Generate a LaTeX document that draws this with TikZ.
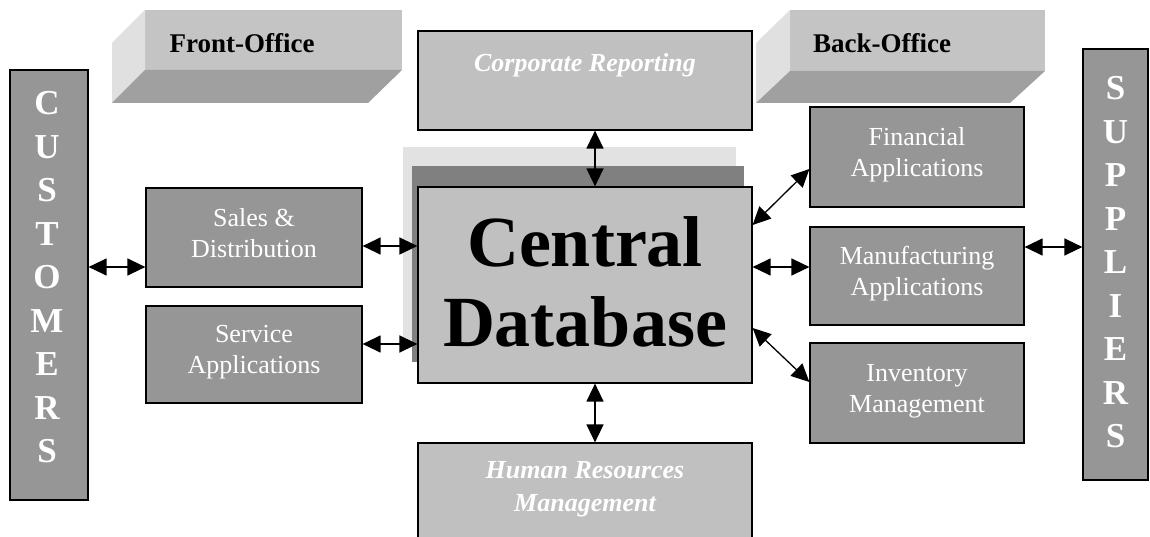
\documentclass[tikz,border=0pt]{standalone}
\usepackage{fontspec}
\setmainfont{Liberation Serif}
\usetikzlibrary{arrows.meta}

\definecolor{boxdark}{HTML}{969696}
\definecolor{boxlight}{HTML}{C0C0C0}
\definecolor{facelight}{HTML}{E0E0E0}
\definecolor{facemid}{HTML}{C4C4C4}
\definecolor{facedark}{HTML}{A0A0A0}
\definecolor{shadowdark}{HTML}{808080}
\definecolor{shadowlight}{HTML}{E2E2E2}

\begin{document}
\begin{tikzpicture}[x=1pt,y=-1pt,
  frame/.style={draw=black,line width=1.2pt,inner sep=0pt},
  darkbox/.style={frame,fill=boxdark,text=white,align=center,
    font=\fontsize{26}{31}\selectfont,text depth=10pt},
  lightbox/.style={frame,fill=boxlight},
  columnbox/.style={frame,fill=boxdark},
  columntext/.style={text=white,align=center,inner sep=0pt,text depth=0pt,
    font=\fontsize{35}{43.5}\selectfont\bfseries},
  italtext/.style={text=white,align=center,inner sep=0pt,text depth=0pt,
    font=\fontsize{26}{33}\selectfont\bfseries\itshape},
  officetext/.style={text=black,inner sep=0pt,text depth=0pt,
    font=\fontsize{27}{30}\selectfont\bfseries},
  tip/.tip={Triangle[length=18pt,width=17pt]},
  biarrow/.style={tip-tip,line width=1.3pt,black}
]
\useasboundingbox (0,0) rectangle (1150,537);
\fill[white] (0,0) rectangle (1150,537);
\clip (0,0) rectangle (1150,537);

% raised banners for the two office groups
\fill[facemid]   (145,10) rectangle (402,70);
\fill[facelight] (145,10) -- (112,43) -- (112,103) -- (145,70) -- cycle;
\fill[facedark]  (145,70) -- (402,70) -- (368,103) -- (112,103) -- cycle;
\node[officetext] (front) at (242,43) {Front-Office};

\fill[facemid]   (790,10) rectangle (1045,71);
\fill[facelight] (790,10) -- (756,43) -- (756,103) -- (790,71) -- cycle;
\fill[facedark]  (790,71) -- (1045,71) -- (1010,103) -- (756,103) -- cycle;
\node[officetext] (back) at (882,43) {Back-Office};

% side columns
\node[columnbox,minimum width=78,minimum height=430] (cust) at (49,285) {};
\node[columntext] (custtxt) at ([xshift=-2pt,yshift=8pt]cust.center)
  {C\\U\\S\\T\\O\\M\\E\\R\\S};
\node[columnbox,minimum width=65,minimum height=431] (supp) at (1115.5,264.5) {};
\node[columntext] (supptxt) at ([yshift=2.5pt]supp.center)
  {S\\U\\P\\P\\L\\I\\E\\R\\S};

% central database with stacked sheets behind it
\fill[shadowlight] (403,147) rectangle (736,343);
\fill[shadowdark]  (412,166) rectangle (744,362);
\node[lightbox,minimum width=334,minimum height=196,align=center,
  font=\fontsize{72}{80}\selectfont\bfseries,text depth=6pt]
  (cdb) at (585,285) {Central\\Database};

% reporting and HR
\node[lightbox,minimum width=334,minimum height=99] (corp) at (585,80.5) {};
\node[italtext] (corptxt) at (585,62) {Corporate Reporting};
\node[lightbox,minimum width=334,minimum height=117] (hr) at (585,501.5) {};
\node[italtext] (hrtxt) at (585,486.5) {Human Resources\\Management};

% application modules
\node[darkbox,minimum width=216,minimum height=99]  (sales) at (254,237.5) {Sales \&\\Distribution};
\node[darkbox,minimum width=216,minimum height=97]  (serv)  at (254,354.5) {Service\\Applications};
\node[darkbox,minimum width=214,minimum height=100] (fin)   at (917,157)   {Financial\\Applications};
\node[darkbox,minimum width=214,minimum height=98]  (manu)  at (917,276)   {Manufacturing\\Applications};
\node[darkbox,minimum width=214,minimum height=100] (inv)   at (917,393)   {Inventory\\Management};

% connectors
\coordinate (cs) at ([yshift=-29.5pt]sales.west);
\draw[biarrow] (cust.east |- cs) -- (cs);
\coordinate (sd) at ([yshift=-8.5pt]sales.east);
\draw[biarrow] (sd) -- (cdb.west |- sd);
\coordinate (vd) at ([yshift=10.5pt]serv.east);
\draw[biarrow] (vd) -- (cdb.west |- vd);
\draw[biarrow] ([xshift=10pt]corp.south) -- ([xshift=10pt]cdb.north);
\draw[biarrow] ([xshift=10pt]cdb.south) -- ([xshift=10pt]hr.north);
\draw[biarrow] ([yshift=60pt]cdb.east) -- ([yshift=-12pt]fin.west);
\coordinate (dm) at ([yshift=18pt]cdb.east);
\draw[biarrow] (dm) -- (manu.west |- dm);
\draw[biarrow] ([yshift=-43pt]cdb.east) -- ([yshift=11pt]inv.west);
\coordinate (ms) at ([yshift=29pt]manu.east);
\draw[biarrow] (ms) -- (supp.west |- ms);
\end{tikzpicture}
\end{document}
